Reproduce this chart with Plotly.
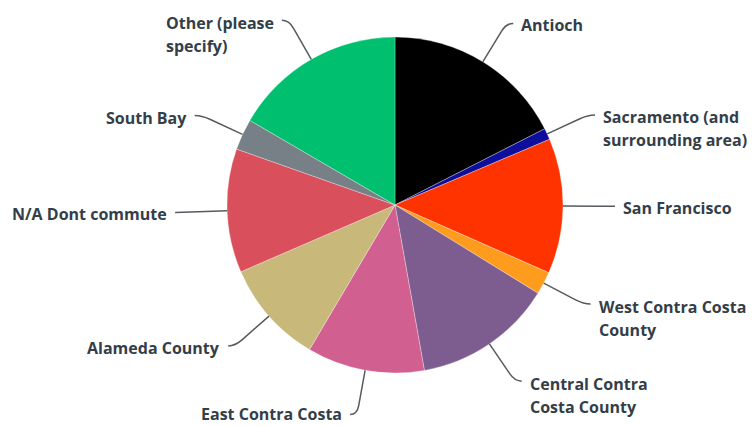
import math
import plotly.graph_objects as go

# Commute destinations (share of respondents, %)
labels = [
    "Antioch",
    "Sacramento (and surrounding area)",
    "San Francisco",
    "West Contra Costa County",
    "Central Contra Costa County",
    "East Contra Costa",
    "Alameda County",
    "N/A Dont commute",
    "South Bay",
    "Other (please specify)",
]
label_lines = [
    ["Antioch"],
    ["Sacramento (and", "surrounding area)"],
    ["San Francisco"],
    ["West Contra Costa", "County"],
    ["Central Contra", "Costa County"],
    ["East Contra Costa"],
    ["Alameda County"],
    ["N/A Dont commute"],
    ["South Bay"],
    ["Other (please", "specify)"],
]
shares = [17.5, 1.1, 13.0, 2.2, 13.4, 11.3, 10.0, 11.9, 3.0, 16.6]
colors = [
    "#000000", "#0d0f9c", "#ff3300", "#ff9b1d", "#7d5c8f",
    "#d15f8f", "#c8b87a", "#d94f5c", "#778087", "#00bf6f",
]

# Canvas and pie geometry (pixels)
W, H = 755, 426
CX, CY, R = 395, 205, 168
R_ELBOW = 213
TAIL = 7
GAP = 6
LINE_H = 23
FONT = dict(family="Open Sans", size=16, color="#333e48", weight=700)

fig = go.Figure()

fig.add_trace(go.Pie(
    labels=labels,
    values=shares,
    sort=False,
    direction="clockwise",
    rotation=0,
    textinfo="none",
    hoverinfo="label+percent",
    marker=dict(colors=colors, line=dict(color="rgba(255,255,255,0.6)", width=0.5)),
    domain=dict(x=[(CX - R) / W, (CX + R) / W], y=[1 - (CY + R) / H, 1 - (CY - R) / H]),
    showlegend=False,
))

# invisible trace so the cartesian overlay exists for leader lines and labels
fig.add_trace(go.Scatter(x=[0, W], y=[0, H], mode="markers",
                         marker=dict(opacity=0), hoverinfo="skip", showlegend=False))

total = sum(shares)
cum = 0.0
shapes = []
annotations = []
for lines, v in zip(label_lines, shares):
    theta = math.radians((cum + v / 2) / total * 360)
    cum += v
    s, c = math.sin(theta), math.cos(theta)
    x0, y0 = CX + R * s, CY - R * c
    xp, yp = CX + (R_ELBOW - 9) * s, CY - (R_ELBOW - 9) * c
    xe, ye = CX + R_ELBOW * s, CY - R_ELBOW * c
    side = 1 if s >= 0 else -1
    xt = xe + side * TAIL
    shapes.append(dict(
        type="path", xref="x", yref="y",
        path=f"M {x0:.1f},{y0:.1f} L {xp:.1f},{yp:.1f} Q {xe:.1f},{ye:.1f} {xt:.1f},{ye:.1f}",
        line=dict(color="#555b60", width=1.5),
    ))
    common = dict(
        xref="x", yref="y", x=xt + side * GAP,
        xanchor="left" if side > 0 else "right",
        align="left", showarrow=False,
    )
    if len(lines) == 1:
        # single line: centred on the leader tail, kept inside the canvas
        annotations.append(dict(
            common, y=min(ye + 2, H - 12), yanchor="middle", text=lines[0],
            font=dict(family=FONT["family"], size=FONT["size"], color=FONT["color"], weight=FONT["weight"]),
        ))
    else:
        # multi-line: wider line pitch via a larger outer font size
        annotations.append(dict(
            common, y=ye + 1 - LINE_H / 2, yanchor="top",
            text=f"<span style='font-size:{FONT['size']}px'>{'<br>'.join(lines)}</span>",
            font=dict(family=FONT["family"], size=LINE_H / 1.3, color=FONT["color"], weight=FONT["weight"]),
        ))

fig.update_layout(
    width=W, height=H,
    margin=dict(l=0, r=0, t=0, b=0),
    paper_bgcolor="white", plot_bgcolor="white",
    xaxis=dict(range=[0, W], visible=False, fixedrange=True),
    yaxis=dict(range=[H, 0], visible=False, fixedrange=True),
    shapes=shapes,
    annotations=annotations,
)

fig.write_html("out.html")
